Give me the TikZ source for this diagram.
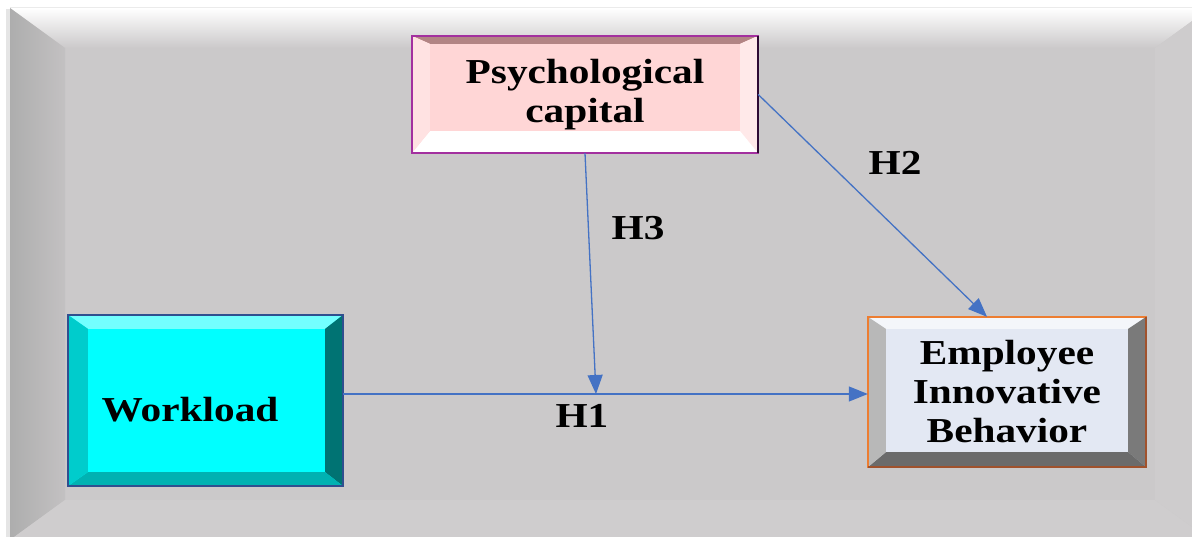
\documentclass[tikz,border=0pt]{standalone}
\usepackage{fontspec}
\setmainfont{Liberation Serif}[FakeStretch=1.18]
\usetikzlibrary{positioning,calc,arrows.meta}

\definecolor{framebg}{HTML}{CBC9CA}
\definecolor{linkblue}{HTML}{4472C4}
\definecolor{psyface}{HTML}{FFD6D6}
\definecolor{psyline}{HTML}{A3309F}
\definecolor{psydark}{HTML}{2E0A33}
\definecolor{wlface}{HTML}{00FFFF}
\definecolor{wlline}{HTML}{2F4F8F}
\definecolor{eibface}{HTML}{E3E8F3}
\definecolor{eibline}{HTML}{ED7D31}
\definecolor{eibdark}{HTML}{A0522D}

\tikzset{
  boxtext/.style={font=\fontsize{35}{39}\selectfont\bfseries},
  hbox/.style={boxtext, inner sep=0pt, align=center},
  psybox/.style={hbox, fill=psyface, minimum width=346pt, minimum height=117pt},
  wlbox/.style={hbox, fill=wlface, minimum width=275pt, minimum height=171pt},
  eibbox/.style={hbox, fill=eibface, minimum width=278pt, minimum height=150pt},
  link/.style={draw=linkblue, line width=1.3pt, -{Triangle[length=19pt,width=15pt]}},
}

% #1 node, #2-#5 top/right/bottom/left width, #6-#9 their colours
\newcommand{\bevelface}[9]{%
  \fill[#6] (#1.north west) -- (#1.north east) -- ($(#1.north east)+(-#3,#2)$) -- ($(#1.north west)+(#5,#2)$) -- cycle;
  \fill[#7] (#1.north east) -- (#1.south east) -- ($(#1.south east)+(-#3,-#4)$) -- ($(#1.north east)+(-#3,#2)$) -- cycle;
  \fill[#8] (#1.south east) -- (#1.south west) -- ($(#1.south west)+(#5,-#4)$) -- ($(#1.south east)+(-#3,-#4)$) -- cycle;
  \fill[#9] (#1.south west) -- (#1.north west) -- ($(#1.north west)+(#5,#2)$) -- ($(#1.south west)+(#5,-#4)$) -- cycle;
}

\begin{document}
\begin{tikzpicture}[x=1pt,y=-1pt]
  \useasboundingbox (0,0) rectangle (1192,537);
  \fill[white] (0,0) rectangle (1192,537);

  % bevelled frame
  \fill[black!10] (6,9) rectangle (1210,540);
  \fill[framebg] (10,8) rectangle (1210,540);
  \shade[top color=white, middle color=white!88!framebg, bottom color=framebg] (10,8) -- (1210,8) -- (1155,48) -- (65,48) -- cycle;
  \draw[black!8, line width=1pt] (10,8) -- (1192,8);
  \shade[left color=black!32, right color=framebg!96!black] (10,8) -- (65,48) -- (65,500) -- (10,540) -- cycle;
  \fill[framebg!93!white] (10,540) -- (65,500) -- (1155,500) -- (1210,540) -- cycle;
  \fill[framebg!94!white] (1210,8) -- (1155,48) -- (1155,500) -- (1210,540) -- cycle;

  % boxes
  \node[psybox] (psy) at (585,94.5) {Psychological\\capital};
  \node[wlbox] (wl) at (205.5,400.5) {};
  \node[eibbox] (eib) at (1007,392) {Employee\\Innovative\\Behavior};

  \bevelface{psy}{8}{18}{22}{18}{psyface!88!red!70!black}{psyface!55!white}{white}{psyface!70!white}
  \bevelface{wl}{14}{18}{14}{20}{wlface!55!white}{wlface!45!black}{wlface!70!black}{wlface!80!black}
  \bevelface{eib}{12}{18}{15}{18}{eibface!40!white}{black!52}{black!58}{black!28}

  \draw[psyline, line width=2.5pt] (psy.north west) rectangle (psy.south east);
  \draw[psydark, line width=2.5pt] (psy.north east) -- (psy.south east);
  \draw[wlline, line width=2pt] (wl.north west) rectangle (wl.south east);
  \draw[eibline, line width=2.5pt] (eib.north west) rectangle (eib.south east);
  \draw[eibdark, line width=2.5pt] (eib.north east) -- (eib.south east) -- (eib.south west);

  \node[boxtext] (wltext) at (190,410) {Workload};

  % hypotheses
  \coordinate (meet) at (596,394);
  \draw[link] (wl.east |- meet) -- (eib.west |- meet);
  \draw[link] (psy.south) -- (meet);
  \draw[link] (psy.east) -- ([xshift=-20pt]eib.north);

  \node[boxtext] (h1) at (582,416) {H1};
  \node[boxtext] (h2) at (895,163) {H2};
  \node[boxtext] (h3) at (638,228) {H3};
\end{tikzpicture}
\end{document}
